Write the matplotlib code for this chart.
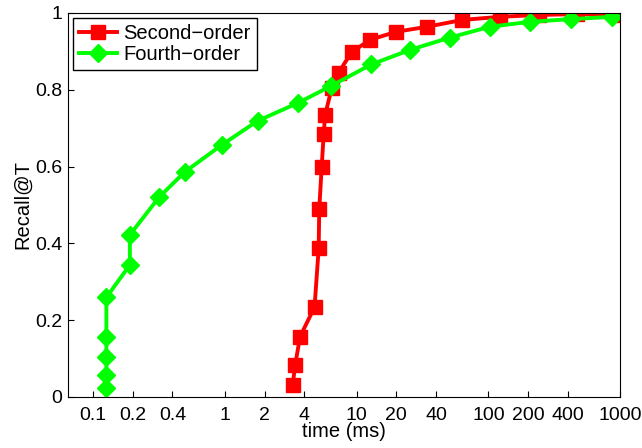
import matplotlib.pyplot as plt

plt.rcParams['font.family'] = ['Liberation Sans', 'DejaVu Sans']

# Second-order curve
second_time = [3.27, 3.41, 3.72, 4.79, 5.15, 5.2, 5.43, 5.62, 5.76, 6.46, 7.3,
               9.17, 12.6, 19.9, 34.1, 63.5, 122, 242, 472, 949]
second_recall = [0.031, 0.082, 0.157, 0.234, 0.387, 0.489, 0.600, 0.684, 0.734,
                 0.804, 0.845, 0.898, 0.930, 0.951, 0.964, 0.982, 0.990, 0.995,
                 0.997, 0.995]

# Fourth-order curve
fourth_time = [0.126, 0.126, 0.126, 0.126, 0.126, 0.19, 0.19, 0.316, 0.496,
               0.944, 1.77, 3.6, 6.4, 12.9, 25.5, 51, 102, 206, 421, 871]
fourth_recall = [0.023, 0.057, 0.103, 0.157, 0.259, 0.344, 0.422, 0.520, 0.586,
                 0.656, 0.719, 0.766, 0.810, 0.866, 0.904, 0.936, 0.964, 0.977,
                 0.984, 0.990]

xticks = [0.1, 0.2, 0.4, 1, 2, 4, 10, 20, 40, 100, 200, 400, 1000]
xticklabels = ['0.1', '0.2', '0.4', '1', '2', '4', '10', '20', '40', '100', '200', '400', '1000']
yticks = [0, 0.2, 0.4, 0.6, 0.8, 1]
yticklabels = ['0', '0.2', '0.4', '0.6', '0.8', '1']

fig = plt.figure(figsize=(6.42, 4.48), dpi=100)
ax = fig.add_axes([0.106, 0.114, 0.860, 0.857])

ax.plot(second_time, second_recall, color='#ff0000', linewidth=2.8,
        marker='s', markersize=9.5, label='Second\u2212order')
ax.plot(fourth_time, fourth_recall, color='#00ff00', linewidth=2.8,
        marker='D', markersize=9, label='Fourth\u2212order')

ax.set_xscale('log')
ax.set_xlim(0.0645, 1000)
ax.set_ylim(0, 1)
ax.set_xticks(xticks)
ax.set_xticklabels(xticklabels)
ax.set_yticks(yticks)
ax.set_yticklabels(yticklabels)
ax.minorticks_off()
ax.tick_params(direction='in', length=4, labelsize=14)
ax.tick_params(axis='x', pad=7)
ax.tick_params(axis='y', pad=4)
ax.set_xlabel('time (ms)', fontsize=14.5, labelpad=-1)
ax.set_ylabel('Recall@T', fontsize=14.5, labelpad=2)

leg = ax.legend(loc='upper left', fontsize=14.5, fancybox=False, framealpha=1,
                edgecolor='black', handlelength=1.9, borderpad=0.3,
                labelspacing=0.1, handletextpad=0.3, borderaxespad=0.25)
leg.get_frame().set_linewidth(1.0)

fig.savefig('out.png', dpi=100)
